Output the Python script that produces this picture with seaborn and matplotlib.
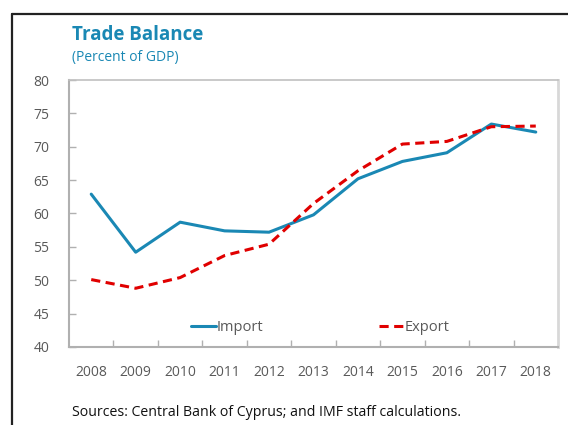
import matplotlib
matplotlib.use("Agg")
import matplotlib.pyplot as plt
import seaborn as sns
import pandas as pd
from matplotlib.lines import Line2D

years = ["2008", "2009", "2010", "2011", "2012", "2013", "2014", "2015", "2016", "2017", "2018"]
import_vals = [62.9, 54.2, 58.7, 57.4, 57.2, 59.8, 65.2, 67.8, 69.1, 73.4, 72.2]
export_vals = [50.1, 48.8, 50.4, 53.7, 55.4, 61.5, 66.4, 70.4, 70.8, 73.0, 73.1]
yticks = [40, 45, 50, 55, 60, 65, 70, 75, 80]

sns.set_theme(style="white")
plt.rcParams["font.family"] = ["Open Sans", "DejaVu Sans"]

blue = "#1a88b4"
red = "#e00000"
gray_txt = "#595959"

idx = list(range(len(years)))
df = pd.DataFrame({"idx": idx * 2,
                   "value": import_vals + export_vals,
                   "series": ["Import"] * len(years) + ["Export"] * len(years)})

fig = plt.figure(figsize=(5.68, 4.25), dpi=100)
ax = fig.add_axes([69 / 568, 1 - 347 / 425, (558 - 69) / 568, (347 - 80) / 425])

sns.lineplot(data=df[df.series == "Import"], x="idx", y="value", ax=ax,
             color=blue, linewidth=2.2, legend=False)
sns.lineplot(data=df[df.series == "Export"], x="idx", y="value", ax=ax,
             color=red, linewidth=2.2, linestyle=(0, (3, 1.8)), legend=False)

ax.set_xlim(-0.5, len(years) - 0.5)
ax.set_ylim(40, 80)
ax.set_yticks(yticks)
ax.set_yticklabels([str(t) for t in yticks])
ax.set_xticks(idx)
ax.set_xticklabels(years)
ax.set_xticks([i + 0.5 for i in idx[:-1]], minor=True)
ax.set_xlabel("")
ax.set_ylabel("")

ax.tick_params(axis="y", direction="in", length=5, width=1, color="#b0b0b0",
               labelsize=10, labelcolor=gray_txt, pad=14, left=True)
ax.tick_params(axis="x", which="major", length=0, labelsize=10,
               labelcolor=gray_txt, pad=13)
ax.tick_params(axis="x", which="minor", direction="in", length=5, width=1,
               color="#b0b0b0", bottom=True)

for side in ["left", "bottom"]:
    ax.spines[side].set_color("#b0b0b0")
    ax.spines[side].set_linewidth(1.5)
ax.spines["top"].set_color("#c0c0c0")
ax.spines["top"].set_linewidth(1.2)
ax.spines["right"].set_color("#d8d8d8")
ax.spines["right"].set_linewidth(2)

handles = [Line2D([], [], color=blue, linewidth=2.2),
           Line2D([], [], color=red, linewidth=2.2, linestyle=(0, (3, 1.8)))]
leg = ax.legend(handles, ["Import", "Export"], loc="lower center",
                bbox_to_anchor=(0.514, -0.006), ncol=2, frameon=False,
                handlelength=1.7, handletextpad=0.05, columnspacing=7.9,
                fontsize=10.5)
for t in leg.get_texts():
    t.set_color(gray_txt)

fig.text(72 / 568, 1 - 35 / 425, "Trade Balance", color=blue, fontsize=13.5,
         fontweight="bold", va="center", ha="left")
fig.text(72 / 568, 1 - 57 / 425, "(Percent of GDP)", color=blue, fontsize=10,
         va="center", ha="left")
fig.text(72 / 568, 1 - 413 / 425, "Sources: Central Bank of Cyprus; and IMF staff calculations.",
         color="#111111", fontsize=10.2, va="center", ha="left")

# outer frame (top and left edges visible)
fig.add_artist(Line2D([12 / 568, 1.0], [1 - 14 / 425, 1 - 14 / 425],
                      transform=fig.transFigure, color="#222222", linewidth=1.6))
fig.add_artist(Line2D([12 / 568, 12 / 568], [0, 1 - 14 / 425],
                      transform=fig.transFigure, color="#222222", linewidth=1.6))

fig.savefig("out.png", dpi=100)
